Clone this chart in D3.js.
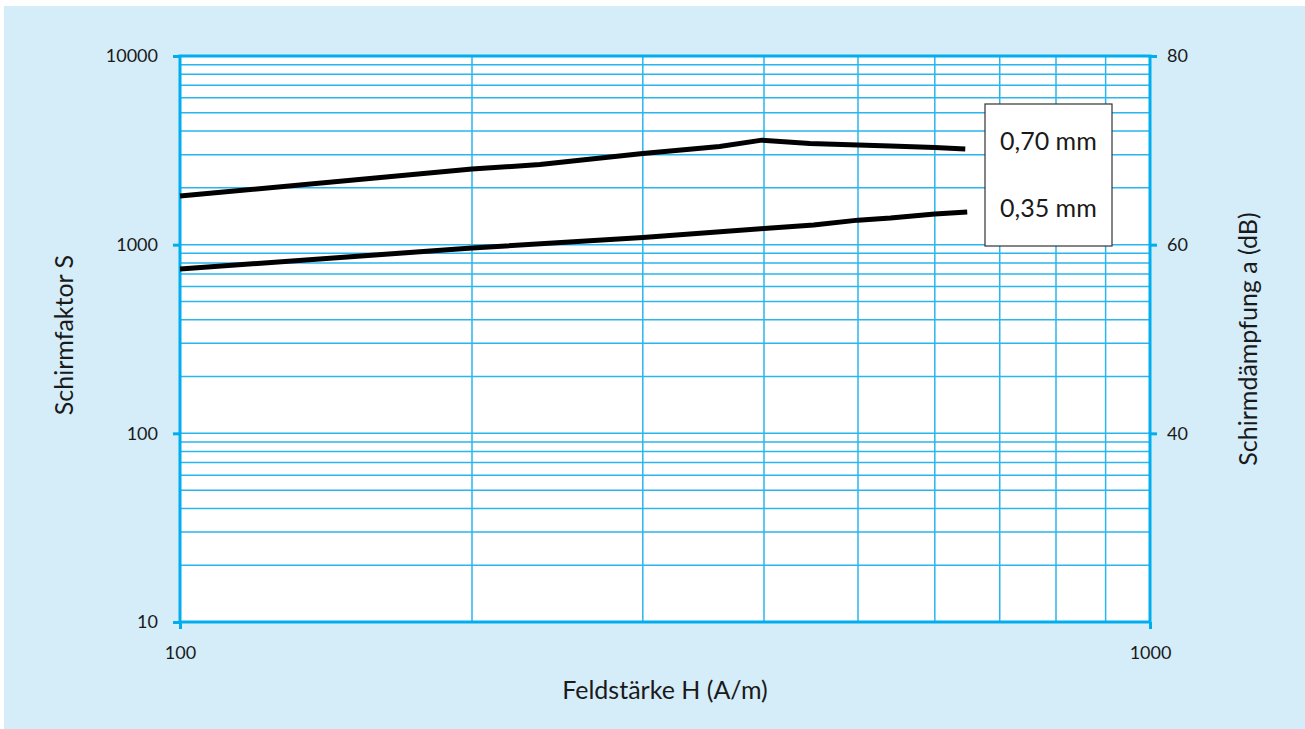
<!DOCTYPE html>
<html><head><meta charset="utf-8">
<script src="https://cdn.jsdelivr.net/npm/d3@7"></script>
<style>html,body{margin:0;padding:0;background:#fff;}svg{display:block;}</style>
</head><body>
<svg id="c" width="1305" height="729"></svg>
<script>
// Data
const fieldH = [100, 200, 235, 300, 360, 398, 446, 500, 540, 600, 645];
const s070 = [1811, 2515, 2658, 3041, 3313, 3581, 3435, 3374, 3331, 3271, 3214];
const fieldH2 = [100, 200, 300, 400, 450, 500, 540, 600, 648];
const s035 = [743, 960, 1091, 1217, 1270, 1349, 1384, 1453, 1490];
const seriesLabels = ["0,70 mm", "0,35 mm"];
const leftTicks = [10, 100, 1000, 10000];
const rightTicks = [40, 60, 80];
const bottomTicks = [100, 1000];

const svg = d3.select("#c");
const font = "Lato, 'DejaVu Sans', sans-serif";
const axisCol = "#00aeef", gridCol = "#29b6ee", txtCol = "#1a1a1a";

svg.append("rect").attr("x",4).attr("y",6).attr("width",1301).attr("height",723).attr("fill","#d5ecf9");

const x0=180,x1=1150,y0=622,y1=56;
const x = d3.scaleLog().domain([100,1000]).range([x0,x1]);
const y = d3.scaleLog().domain([10,10000]).range([y0,y1]);
const yr = d3.scaleLinear().domain([20,80]).range([y0,y1]);

svg.append("rect").attr("x",x0).attr("y",y1).attr("width",x1-x0).attr("height",y0-y1).attr("fill","#fff");

// grid
const g = svg.append("g");
const xMinor = d3.range(2,10).map(d=>d*100);
g.selectAll("line.vx").data(xMinor).join("line")
  .attr("x1",d=>x(d)).attr("x2",d=>x(d)).attr("y1",y1).attr("y2",y0)
  .attr("stroke",gridCol).attr("stroke-width",1.5);
const yMinor = [];
[10,100,1000].forEach(b=>{for(let i=2;i<=9;i++) yMinor.push(b*i);});
yMinor.push(100,1000);
g.selectAll("line.hy").data(yMinor).join("line")
  .attr("x1",x0).attr("x2",x1).attr("y1",d=>y(d)).attr("y2",d=>y(d))
  .attr("stroke",gridCol).attr("stroke-width",1.5);

// axes
const axL = svg.append("g").attr("transform",`translate(${x0},0)`)
  .call(d3.axisLeft(y).tickValues(leftTicks).tickFormat(d3.format("d")).tickSize(7).tickPadding(15));
const axR = svg.append("g").attr("transform",`translate(${x1},0)`)
  .call(d3.axisRight(yr).tickValues(rightTicks).tickFormat(d3.format("d")).tickSize(7).tickPadding(10));
const axB = svg.append("g").attr("transform",`translate(0,${y0})`)
  .call(d3.axisBottom(x).tickValues(bottomTicks).tickFormat(d3.format("d")).tickSize(7).tickPadding(17));
[axL,axR,axB].forEach(a=>{
  a.select(".domain").remove();
  a.selectAll(".tick line").attr("stroke",axisCol).attr("stroke-width",3);
  a.selectAll(".tick text").attr("fill",txtCol).attr("font-family",font).attr("font-size",18);
});
// frame
svg.append("rect").attr("x",x0).attr("y",y1).attr("width",x1-x0).attr("height",y0-y1)
  .attr("fill","none").attr("stroke",axisCol).attr("stroke-width",3);

// lines
const line = d3.line().x(d=>x(d[0])).y(d=>y(d[1]));
svg.append("path").datum(fieldH.map((h,i)=>[h,s070[i]])).attr("d",line)
  .attr("fill","none").attr("stroke","#000").attr("stroke-width",5);
svg.append("path").datum(fieldH2.map((h,i)=>[h,s035[i]])).attr("d",line)
  .attr("fill","none").attr("stroke","#000").attr("stroke-width",5);

// legend
svg.append("rect").attr("x",985).attr("y",104).attr("width",127).attr("height",142)
  .attr("fill","#fff").attr("stroke","#333").attr("stroke-width",1.2);
svg.selectAll("text.leg").data(seriesLabels).join("text")
  .attr("x",1000).attr("y",(d,i)=>150+i*67)
  .attr("font-family",font).attr("font-size",25).attr("fill",txtCol).text(d=>d);

// titles
svg.append("text").attr("x",665).attr("y",699).attr("text-anchor","middle")
  .attr("font-family",font).attr("font-size",25).attr("fill",txtCol).text("Feldstärke H (A/m)");
svg.append("text").attr("transform","translate(73,335) rotate(-90)").attr("text-anchor","middle")
  .attr("font-family",font).attr("font-size",25).attr("fill",txtCol).text("Schirmfaktor S");
svg.append("text").attr("transform","translate(1257,339) rotate(-90)").attr("text-anchor","middle")
  .attr("font-family",font).attr("font-size",25).attr("fill",txtCol).text("Schirmdämpfung a (dB)");
</script>
</body></html>
